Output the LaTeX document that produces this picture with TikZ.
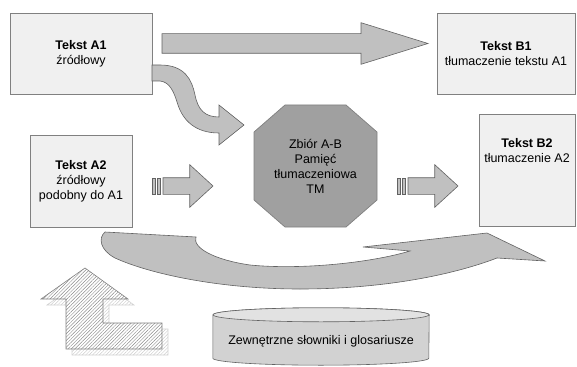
\documentclass[tikz,border=0pt]{standalone}
\usepackage{fontspec}
\setmainfont{Liberation Sans}
\usetikzlibrary{shapes.arrows,patterns.meta,calc}
\definecolor{boxfill}{HTML}{F0F0F0}
\definecolor{boxline}{HTML}{808080}
\definecolor{arrfill}{HTML}{C0C0C0}
\definecolor{arrline}{HTML}{626262}
\definecolor{tmfill}{HTML}{A0A0A0}
\definecolor{cylbody}{HTML}{D2D2D2}
\definecolor{cyltop}{HTML}{E2E2E2}
\tikzset{box/.style={draw=boxline, fill=boxfill, line width=0.7pt, align=center, inner sep=0pt},
  fat/.style={draw=arrline, fill=arrfill, line width=0.6pt},
  fatarr/.style={fat, single arrow, inner xsep=0pt, outer sep=0pt, anchor=tail},
  hatch/.style={pattern={Lines[angle=45, distance=2.4pt, line width=0.45pt]}},
  cyl/.style={draw=arrline, line width=0.6pt}}
\newcommand\uparr{(85,268) -- (128,299) -- (103,299) -- (103,323) -- (162,323) -- (162,349) -- (66,349) -- (66,299) -- (41,299) -- cycle}

\begin{document}
\begin{tikzpicture}[x=1pt, y=-1pt, font=\fontsize{12.5}{15}\selectfont]
  \useasboundingbox (0,0) rectangle (577,366);
  % texts
  \node[box, minimum width=142pt, minimum height=81pt] (a1) at (81,53.5) {\textbf{Tekst A1}\\źródłowy};
  \node[box, minimum width=138pt, minimum height=81pt] (b1) at (506,53.5) {\textbf{Tekst B1}\\tłumaczenie tekstu A1};
  \node[box, minimum width=102pt, minimum height=92pt] (a2) at (81,181) {\textbf{Tekst A2}\\źródłowy\\podobny do A1};
  \node[box, minimum width=96pt, minimum height=112pt] (b2) at (527,170) {};
  \node[align=center] (b2t) at ($(b2.center)+(0,-19)$) {\textbf{Tekst B2}\\tłumaczenie A2};
  % translation memory
  \coordinate (tmc) at (315.5,166);
  \draw[draw=boxline, fill=tmfill, line width=0.7pt]
    ($(tmc)+(-30.5,-61)$) -- ($(tmc)+(30.5,-61)$) -- ($(tmc)+(61.5,-34)$) -- ($(tmc)+(61.5,34)$)
    -- ($(tmc)+(30.5,61)$) -- ($(tmc)+(-30.5,61)$) -- ($(tmc)+(-61.5,34)$) -- ($(tmc)+(-61.5,-34)$) -- cycle;
  \node[align=center] (tm) at (tmc) {Zbiór A-B\\Pamięć\\tłumaczeniowa\\TM};
  % straight arrows
  \node[fatarr, minimum height=266pt, inner ysep=9.5pt, single arrow head extend=11pt,
    single arrow tip angle=34.5] (f1) at (162,43.5) {};
  \node[fatarr, minimum height=50pt, inner ysep=8pt, single arrow head extend=13pt,
    single arrow tip angle=85] (f2) at (163,186) {};
  \node[fatarr, minimum height=50pt, inner ysep=8pt, single arrow head extend=13pt,
    single arrow tip angle=85] (f3) at (408,186) {};
  \draw[fat] ($(f2.tail)+(-11,-8)$) rectangle ++(3,16);
  \draw[fat] ($(f2.tail)+(-6,-8)$) rectangle ++(3,16);
  \draw[fat] ($(f3.tail)+(-11,-8)$) rectangle ++(3,16);
  \draw[fat] ($(f3.tail)+(-6,-8)$) rectangle ++(3,16);
  % bent arrow A1 -> TM
  \draw[fat] (152,65) -- (160,65) .. controls (185,65) and (192,80) .. (195,95)
    .. controls (198,110) and (205,117) .. (219,117) -- (219,105) -- (244,125) -- (219,145) -- (219,133)
    .. controls (195,133) and (183,120) .. (178,105) .. controls (174,92) and (170,82) .. (160,81)
    -- (152,81) -- cycle;
  % big curved arrow A2 -> B2
  \draw[fat] (105,232) -- (196,237) .. controls (192,248) and (215,260) .. (250,265)
    .. controls (300,270) and (370,263) .. (410,251) -- (363,247) -- (487,233) -- (545,261) -- (497,258)
    .. controls (450,276) and (380,289) .. (300,289) .. controls (220,289) and (150,274) .. (115,258)
    .. controls (100,250) and (98,238) .. (105,232) -- cycle;
  % hatched arrow with shadow
  \draw[shift={(6,6)}, draw=gray!35, line width=0.6pt, hatch, pattern color=gray!40] \uparr;
  \draw[draw=gray, line width=0.6pt, preaction={fill=white}, hatch, pattern color=gray!90] \uparr;
  % dictionaries
  \node[minimum width=216pt, minimum height=43pt, inner sep=0pt] (ext) at (321,336.5) {};
  \path[cyl, fill=cylbody] (ext.north west) -- (ext.south west)
    arc[start angle=180, end angle=360, x radius=108pt, y radius=7pt] -- (ext.north east)
    arc[start angle=0, end angle=180, x radius=108pt, y radius=7pt] -- cycle;
  \draw[cyl, fill=cyltop] (ext.north) ellipse[x radius=108pt, y radius=7pt];
  \node (extt) at ($(ext.center)+(0,4.5)$) {Zewnętrzne słowniki i glosariusze};
\end{tikzpicture}
\end{document}
